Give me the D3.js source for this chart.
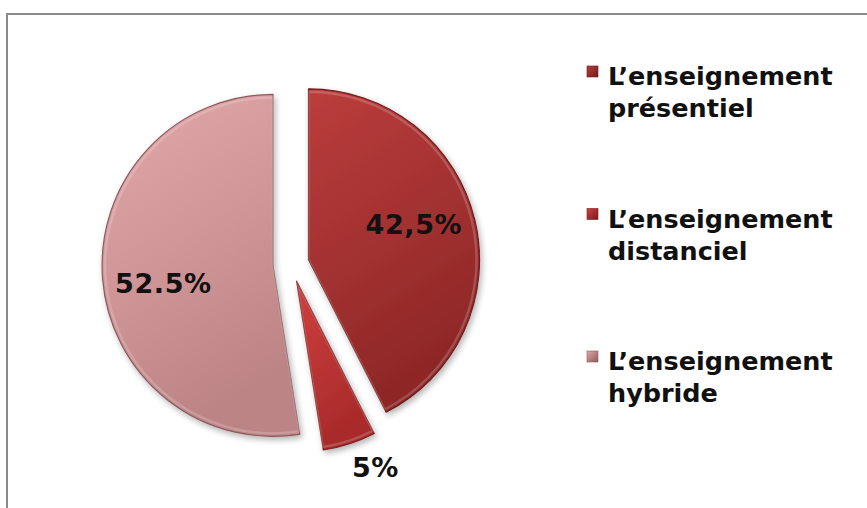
<!DOCTYPE html>
<html>
<head>
<meta charset="utf-8">
<script src="https://cdn.jsdelivr.net/npm/d3@7"></script>
<style>
  html, body { margin: 0; padding: 0; background: #fff; }
  svg { display: block; }
  text { font-family: Verdana, 'DejaVu Sans', sans-serif; font-weight: bold; fill: #111; }
</style>
</head>
<body>
<svg id="chart" width="867" height="508"></svg>
<script>
// data
const categories = ['présentiel', 'distanciel', 'hybride'];
const values = [42.5, 5, 52.5];
const labels = ['42,5%', '5%', '52.5%'];
const legendPrefix = 'L’enseignement';

const W = 867, H = 508;
const cx = 291, cy = 264, R = 171, explode = 18;
const labelTurn = -5 * Math.PI / 180; // the original 3D view drifts labels a bit anticlockwise

// colour per slice: [light, dark, edge]
const palette = [
  ['#bb3d3c', '#8e2727', '#6e1b1b'],
  ['#d0403e', '#a82a2a', '#7a1c1c'],
  ['#e3a8aa', '#bd8486', '#8c5a5c']
];

const svg = d3.select('#chart');
const defs = svg.append('defs');

palette.forEach((c, i) => {
  const g = defs.append('linearGradient').attr('id', 'g' + i)
    .attr('x1', 0).attr('y1', 0).attr('x2', 0.35).attr('y2', 1);
  g.append('stop').attr('offset', '0%').attr('stop-color', c[0]);
  g.append('stop').attr('offset', '100%').attr('stop-color', c[1]);
  const m = defs.append('linearGradient').attr('id', 'm' + i)
    .attr('x1', 0).attr('y1', 0).attr('x2', 1).attr('y2', 1);
  m.append('stop').attr('offset', '0%').attr('stop-color', c[0]);
  m.append('stop').attr('offset', '100%').attr('stop-color', c[2]);
});

const shadow = defs.append('filter').attr('id', 'shadow')
  .attr('x', '-20%').attr('y', '-20%').attr('width', '140%').attr('height', '140%');
shadow.append('feGaussianBlur').attr('in', 'SourceAlpha').attr('stdDeviation', 3);
shadow.append('feOffset').attr('dx', 2).attr('dy', 3).attr('result', 'b');
shadow.append('feComponentTransfer').append('feFuncA').attr('type', 'linear').attr('slope', 0.3);
const mg = shadow.append('feMerge');
mg.append('feMergeNode');
mg.append('feMergeNode').attr('in', 'SourceGraphic');

// frame (runs off right and bottom)
svg.append('path')
  .attr('d', `M7,${H + 5} V14 H${W + 5}`)
  .attr('fill', 'none').attr('stroke', '#8a8a8a').attr('stroke-width', 2);

const pie = d3.pie().sort(null).value(d => d)(values);
const arc = d3.arc().innerRadius(0).outerRadius(R);
const bevel = d3.arc().innerRadius(0).outerRadius(R - 3);

const slices = svg.append('g').selectAll('g').data(pie).join('g')
  .attr('transform', d => {
    const a = (d.startAngle + d.endAngle) / 2;
    return `translate(${cx + Math.sin(a) * explode},${cy - Math.cos(a) * explode})`;
  });

slices.append('path')
  .attr('d', arc)
  .attr('fill', (d, i) => `url(#g${i})`)
  .attr('stroke', (d, i) => palette[i][2])
  .attr('stroke-width', 1.2)
  .attr('stroke-linejoin', 'round')
  .attr('filter', 'url(#shadow)');

// soft inner bevel highlight
slices.append('path')
  .attr('d', bevel)
  .attr('fill', 'none')
  .attr('stroke', 'rgba(255,255,255,0.18)')
  .attr('stroke-width', 2.5)
  .attr('stroke-linejoin', 'round');

slices.append('text')
  .attr('transform', d => {
    const small = d.value < 10;
    const lr = small ? R * 1.18 : R * 0.65;
    const a = (d.startAngle + d.endAngle) / 2 + labelTurn;
    return `translate(${Math.sin(a) * lr},${-Math.cos(a) * lr})`;
  })
  .attr('text-anchor', 'middle')
  .attr('dy', '0.36em')
  .attr('font-size', 27)
  .attr('letter-spacing', 0.6)
  .text((d, i) => labels[i]);

// legend
const legY = d3.scalePoint().domain(categories).range([85, 370]);
const leg = svg.append('g').selectAll('g').data(categories).join('g')
  .attr('transform', d => `translate(587,${legY(d)})`);

leg.append('rect')
  .attr('x', 0).attr('y', -19).attr('width', 11).attr('height', 11)
  .attr('fill', (d, i) => `url(#m${i})`)
  .attr('stroke', (d, i) => palette[i][2]).attr('stroke-width', 0.6);

leg.append('text')
  .attr('x', 21).attr('y', 0)
  .attr('font-size', 25.5)
  .text(legendPrefix);

leg.append('text')
  .attr('x', 21).attr('y', 32)
  .attr('font-size', 25.5)
  .text(d => d);
</script>
</body>
</html>
